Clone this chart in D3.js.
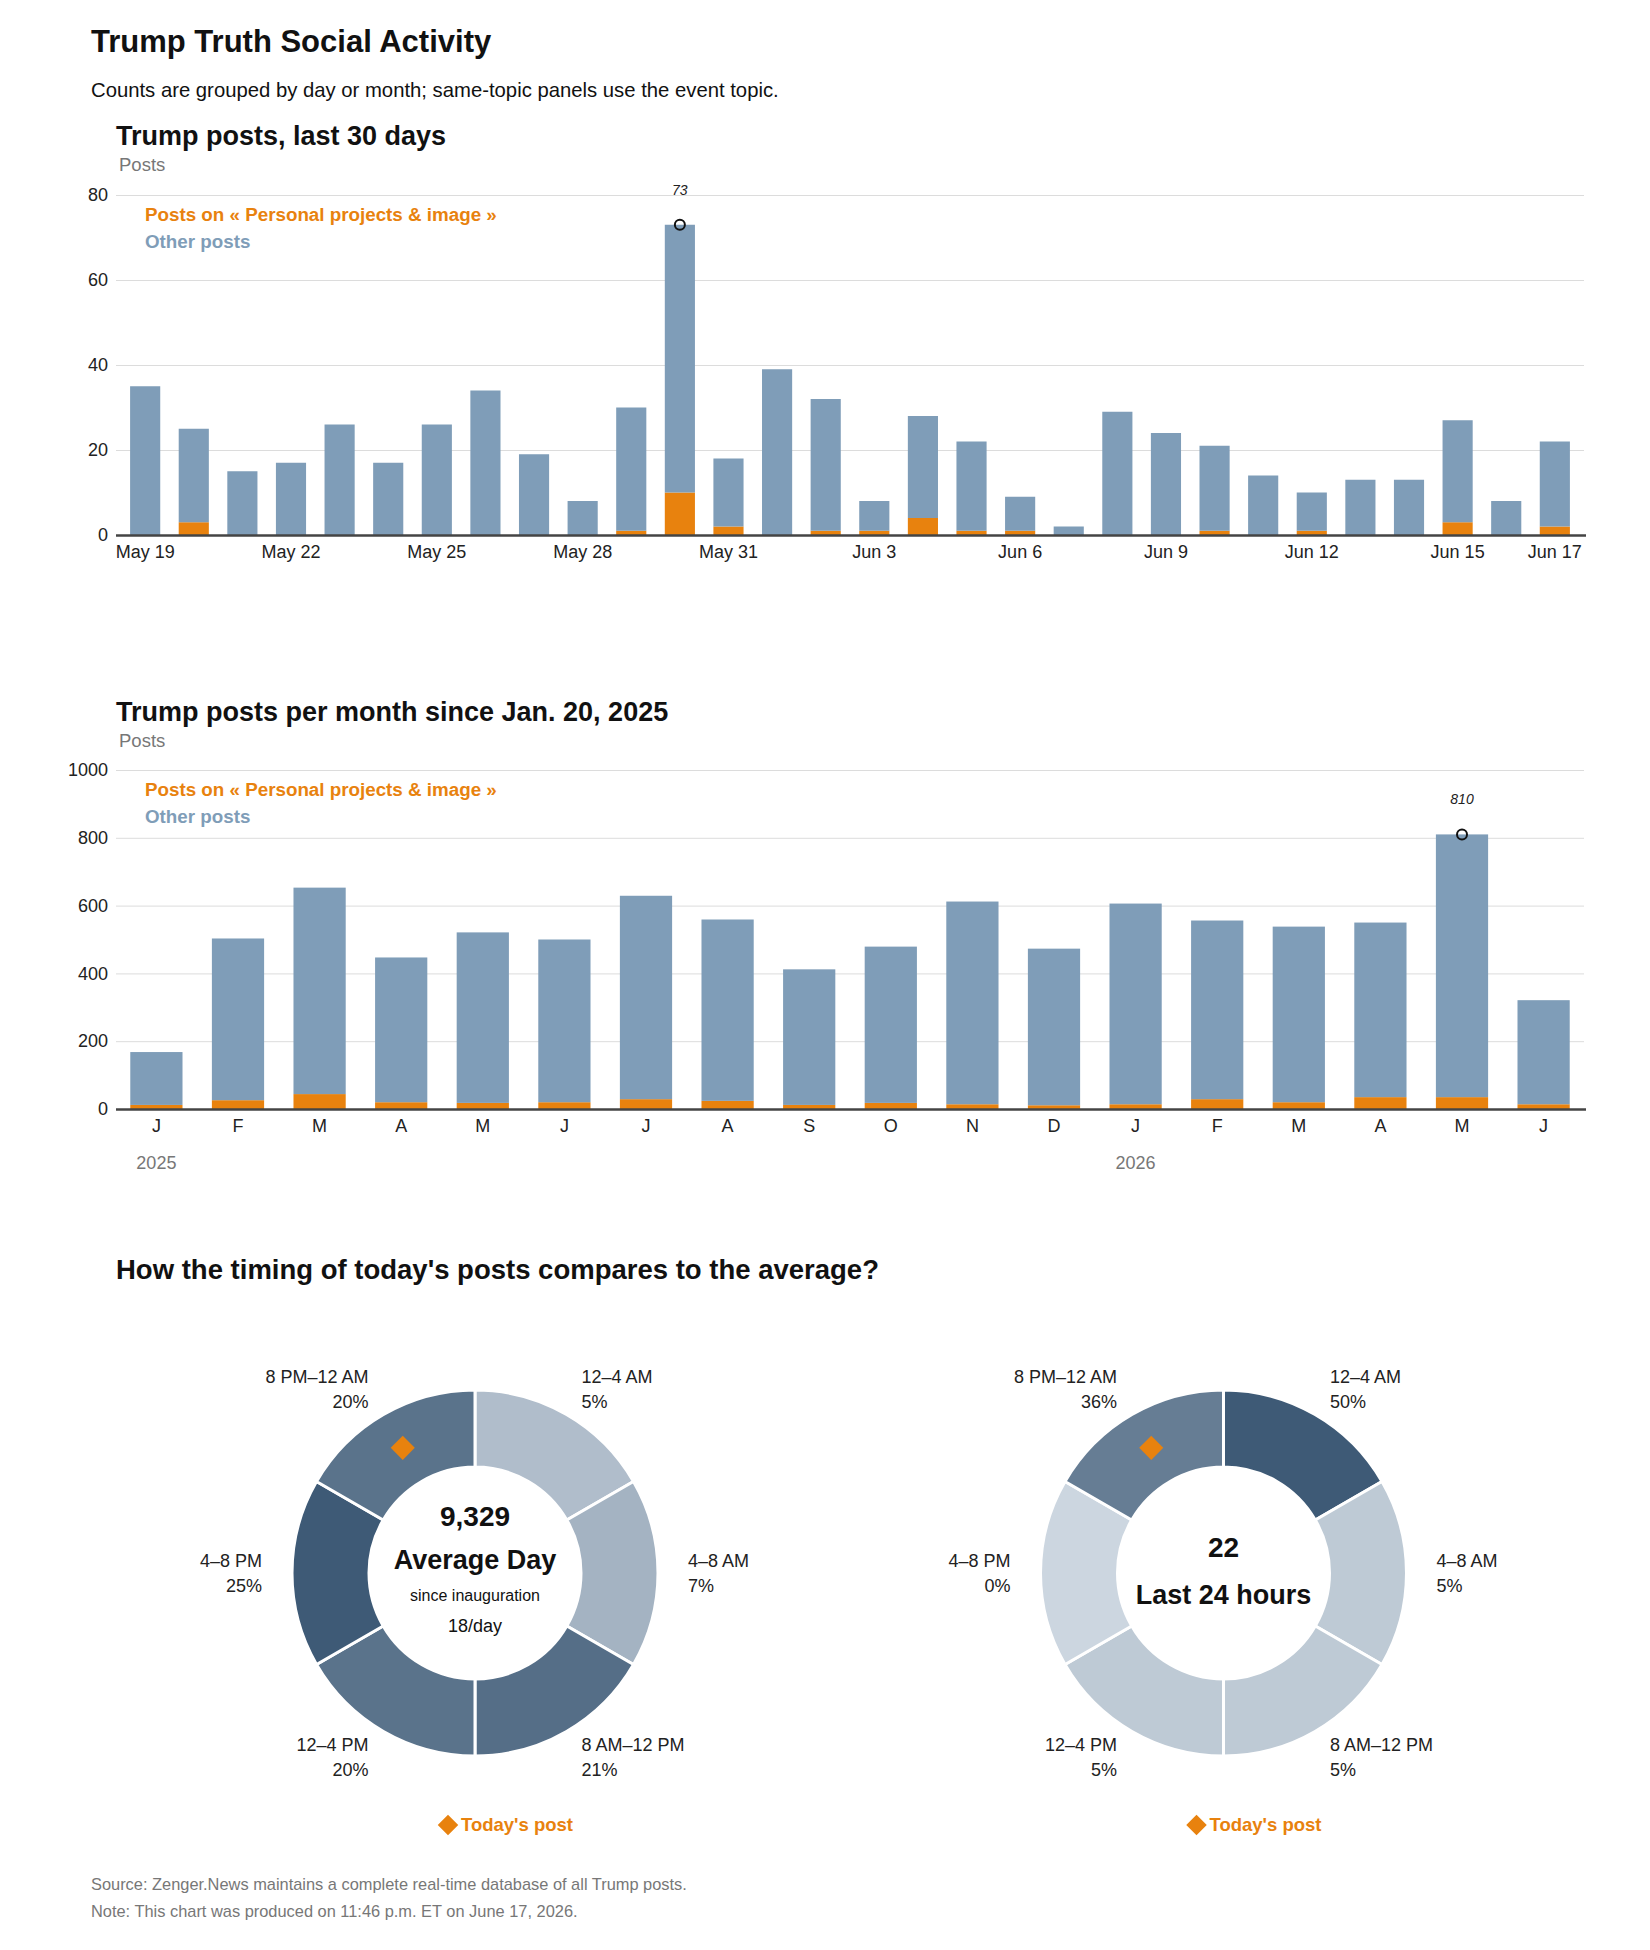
<!DOCTYPE html>
<html>
<head>
<meta charset="utf-8">
<script src="https://cdn.jsdelivr.net/npm/d3@7/dist/d3.min.js"></script>
<style>
  body { margin: 0; background: #fff; }
  text { font-family: "Liberation Sans", Arial, sans-serif; }
</style>
</head>
<body>
<div id="chart"></div>
<script>
// ---- data ----
var dayLabels = ["May 19","May 20","May 21","May 22","May 23","May 24","May 25","May 26","May 27","May 28",
                 "May 29","May 30","May 31","Jun 1","Jun 2","Jun 3","Jun 4","Jun 5","Jun 6","Jun 7",
                 "Jun 8","Jun 9","Jun 10","Jun 11","Jun 12","Jun 13","Jun 14","Jun 15","Jun 16","Jun 17"];
var dayTotal = [35,25,15,17,26,17,26,34,19,8,30,73,18,39,32,8,28,22,9,2,29,24,21,14,10,13,13,27,8,22];
var dayTopic = [0,3,0,0,0,0,0,0,0,0,1,10,2,0,1,1,4,1,1,0,0,0,1,0,1,0,0,3,0,2];
var dayTicks = ["May 19","May 22","May 25","May 28","May 31","Jun 3","Jun 6","Jun 9","Jun 12","Jun 15","Jun 17"];

var monthLabels = ["J","F","M","A","M","J","J","A","S","O","N","D","J","F","M","A","M","J"];
var monthTotal = [168,503,653,447,521,500,629,559,412,479,612,473,606,556,538,550,810,321];
var monthTopic = [12,26,44,20,18,20,29,24,12,18,14,11,14,29,20,35,35,14];
var yearLabels = [{label: "2025", month: 0}, {label: "2026", month: 12}];

var slotLabels = ["12\u20134 AM","4\u20138 AM","8 AM\u201312 PM","12\u20134 PM","4\u20138 PM","8 PM\u201312 AM"];
var avgShare = [5,7,21,20,25,20];
var lastShare = [50,5,5,5,0,36];
var todaySlot = 5;

var topicName = "Personal projects & image";

var W = 1650, H = 1950;
var orange = "#e8820e", blue = "#7f9db8";

var svg = d3.select("#chart").append("svg")
    .attr("width", W)
    .attr("height", H);

// titles
svg.append("text").attr("x", 91).attr("y", 52)
    .style("font-size", "31px").style("font-weight", "bold").attr("fill", "#111")
    .text("Trump Truth Social Activity");
svg.append("text").attr("x", 91).attr("y", 97)
    .style("font-size", "20.3px").attr("fill", "#111")
    .text("Counts are grouped by day or month; same-topic panels use the event topic.");

function barChart(opts) {
    var left = 116, right = 1584;
    var g = svg.append("g");

    g.append("text").attr("x", left).attr("y", opts.titleY)
        .style("font-size", "27px").style("font-weight", "bold").attr("fill", "#111")
        .text(opts.title);
    g.append("text").attr("x", 119).attr("y", opts.titleY + 26)
        .style("font-size", "18.5px").attr("fill", "#777")
        .text("Posts");

    var idx = d3.range(opts.total.length);
    var x = d3.scaleBand().domain(idx).range([left, right])
        .paddingInner(opts.padIn).paddingOuter(opts.padOut);
    var y = d3.scaleLinear().domain([0, opts.max]).range([opts.y0, opts.yTop]);

    // grid + y ticks
    var yAxis = g.append("g").attr("transform", "translate(" + left + ",0)")
        .call(d3.axisLeft(y).tickValues(opts.ticks).tickFormat(d3.format("d"))
            .tickSize(-(right - left)).tickPadding(8));
    yAxis.select(".domain").remove();
    yAxis.selectAll("line").attr("stroke", "#dcdcdc");
    yAxis.selectAll("text").style("font-size", "18px").attr("fill", "#222")
        .style("font-family", '"Liberation Sans", Arial, sans-serif');

    var rows = idx.map(function(i) {
        return {i: i, topic: opts.topic[i], other: opts.total[i] - opts.topic[i]};
    });
    var series = d3.stack().keys(["topic", "other"])(rows);
    var colors = {topic: orange, other: blue};

    g.append("g").selectAll("g").data(series).join("g")
        .attr("fill", function(s) { return colors[s.key]; })
        .selectAll("rect").data(function(s) { return s; }).join("rect")
        .attr("x", function(d) { return x(d.data.i); })
        .attr("width", x.bandwidth())
        .attr("y", function(d) { return y(d[1]); })
        .attr("height", function(d) { return y(d[0]) - y(d[1]); });

    // baseline
    g.append("line").attr("x1", left).attr("x2", right + 2)
        .attr("y1", y(0) + 0.5).attr("y2", y(0) + 0.5)
        .attr("stroke", "#444").attr("stroke-width", 2.5);

    // x labels
    var xAxis = g.append("g").attr("transform", "translate(0," + y(0) + ")")
        .call(d3.axisBottom(x).tickValues(opts.tickIdx).tickSize(0).tickPadding(10)
            .tickFormat(function(i) { return opts.labels[i]; }));
    xAxis.select(".domain").remove();
    xAxis.selectAll("text").style("font-size", "18px").attr("fill", "#222")
        .style("font-family", '"Liberation Sans", Arial, sans-serif');

    // legend
    g.append("text").attr("x", 145).attr("y", opts.yTop + 26)
        .style("font-size", "18.8px").style("font-weight", "bold").attr("fill", orange)
        .text("Posts on \u00ab " + topicName + " \u00bb");
    g.append("text").attr("x", 145).attr("y", opts.yTop + 53)
        .style("font-size", "18.8px").style("font-weight", "bold").attr("fill", blue)
        .text("Other posts");

    // peak annotation
    var m = d3.maxIndex(opts.total);
    var cx = x(m) + x.bandwidth() / 2;
    g.append("circle").attr("cx", cx).attr("cy", y(opts.total[m]))
        .attr("r", 5).attr("fill", "none").attr("stroke", "#111").attr("stroke-width", 2);
    g.append("text").attr("x", cx).attr("y", y(opts.total[m]) - 30)
        .attr("text-anchor", "middle").style("font-size", "14px").style("font-style", "italic")
        .attr("fill", "#222").text(opts.total[m]);

    return {x: x, y: y, g: g};
}

barChart({
    title: "Trump posts, last 30 days", titleY: 145,
    total: dayTotal, topic: dayTopic, labels: dayLabels,
    tickIdx: dayTicks.map(function(t) { return dayLabels.indexOf(t); }),
    max: 80, ticks: [0, 20, 40, 60, 80], yTop: 195, y0: 535,
    padIn: 0.38, padOut: 0.29
});

var monthly = barChart({
    title: "Trump posts per month since Jan. 20, 2025", titleY: 721,
    total: monthTotal, topic: monthTopic, labels: monthLabels,
    tickIdx: d3.range(monthLabels.length),
    max: 1000, ticks: [0, 200, 400, 600, 800, 1000], yTop: 770, y0: 1109,
    padIn: 0.36, padOut: 0.175
});

monthly.g.selectAll(".year").data(yearLabels).join("text")
    .attr("class", "year")
    .attr("x", function(d) { return monthly.x(d.month) + monthly.x.bandwidth() / 2; })
    .attr("y", 1169)
    .attr("text-anchor", "middle").style("font-size", "18px").attr("fill", "#777")
    .text(function(d) { return d.label; });

// ---- timing donuts ----
svg.append("text").attr("x", 116).attr("y", 1279)
    .style("font-size", "27.5px").style("font-weight", "bold").attr("fill", "#111")
    .text("How the timing of today's posts compares to the average?");

var rOut = 183, rIn = 106, rLab = 213;
var arc = d3.arc().innerRadius(rIn).outerRadius(rOut);
var pie = d3.pie().value(function() { return 1; }).sort(null);

function donut(cx, cy, shares, centerLines) {
    var g = svg.append("g").attr("transform", "translate(" + cx + "," + cy + ")");
    var color = d3.scaleLinear().domain([0, d3.max(shares)]).range(["#ccd6e0", "#3e5a76"]);
    var arcs = pie(shares);

    g.selectAll("path").data(arcs).join("path")
        .attr("d", arc)
        .attr("fill", function(d) { return color(d.data); })
        .attr("stroke", "#fff").attr("stroke-width", 3);

    var lab = g.selectAll(".lab").data(arcs).join("text")
        .attr("class", "lab")
        .style("font-size", "18px").attr("fill", "#222")
        .attr("text-anchor", function(d) {
            var a = (d.startAngle + d.endAngle) / 2;
            return Math.sin(a) > 0 ? "start" : "end";
        })
        .attr("transform", function(d) {
            var a = (d.startAngle + d.endAngle) / 2;
            return "translate(" + (rLab * Math.sin(a)) + "," + (-rLab * Math.cos(a)) + ")";
        });
    lab.append("tspan").attr("x", 0).attr("y", -6).text(function(d, i) { return slotLabels[i]; });
    lab.append("tspan").attr("x", 0).attr("y", 19).text(function(d) { return d.data + "%"; });

    // today's slot marker
    var t = arcs[todaySlot];
    var ta = (t.startAngle + t.endAngle) / 2, tr = (rIn + rOut) / 2;
    g.append("path")
        .attr("d", d3.symbol(d3.symbolSquare, 290))
        .attr("transform", "translate(" + (tr * Math.sin(ta)) + "," + (-tr * Math.cos(ta)) + ") rotate(45)")
        .attr("fill", orange);

    g.selectAll(".ctr").data(centerLines).join("text")
        .attr("class", "ctr")
        .attr("text-anchor", "middle")
        .attr("y", function(d) { return d.y; })
        .style("font-size", function(d) { return d.size + "px"; })
        .style("font-weight", function(d) { return d.bold ? "bold" : "normal"; })
        .attr("fill", "#111")
        .text(function(d) { return d.text; });

    // legend
    g.append("path")
        .attr("d", d3.symbol(d3.symbolSquare, 210))
        .attr("transform", "translate(-27,252) rotate(45)")
        .attr("fill", orange);
    g.append("text").attr("x", -14).attr("y", 258)
        .style("font-size", "18.5px").style("font-weight", "bold").attr("fill", orange)
        .text("Today's post");
}

donut(475, 1573, avgShare, [
    {text: "9,329", y: -47, size: 28, bold: true},
    {text: "Average Day", y: -4, size: 27, bold: true},
    {text: "since inauguration", y: 28, size: 16},
    {text: "18/day", y: 59, size: 18}
]);
donut(1223.5, 1573, lastShare, [
    {text: "22", y: -16, size: 28, bold: true},
    {text: "Last 24 hours", y: 31, size: 27, bold: true}
]);

// source
svg.append("text").attr("x", 91).attr("y", 1890)
    .style("font-size", "16.4px").attr("fill", "#777")
    .text("Source: Zenger.News maintains a complete real-time database of all Trump posts.");
svg.append("text").attr("x", 91).attr("y", 1917)
    .style("font-size", "16.4px").attr("fill", "#777")
    .text("Note: This chart was produced on 11:46 p.m. ET on June 17, 2026.");
</script>
</body>
</html>
